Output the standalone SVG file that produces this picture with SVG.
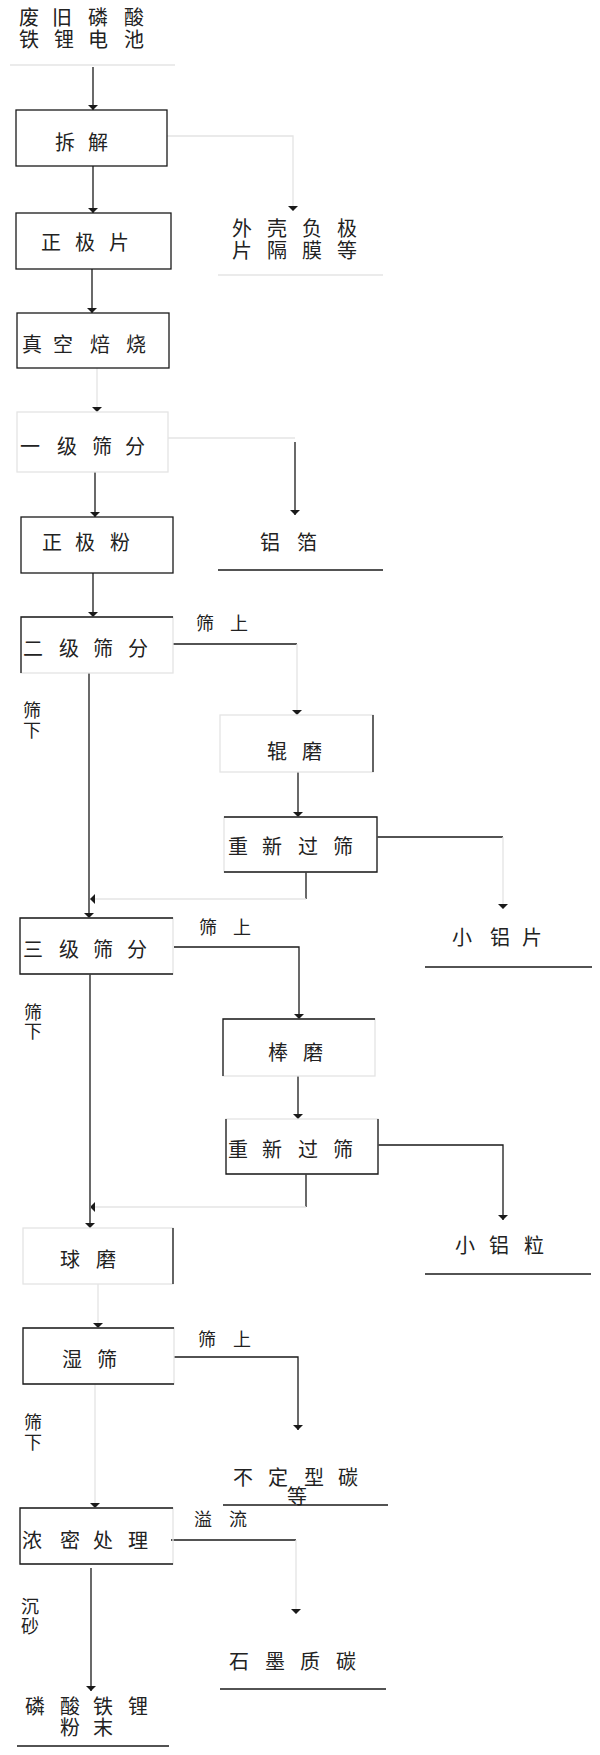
<svg xmlns="http://www.w3.org/2000/svg" width="600" height="1755" viewBox="0 0 600 1755">
<style>
.s{fill:none;stroke:#1a1a1a;stroke-width:1.3}
.f{fill:none;stroke:#e4e4e4;stroke-width:1.3}
.sa{fill:none;stroke:#1a1a1a;stroke-width:1.3;marker-end:url(#ah)}
.fa{fill:none;stroke:#e4e4e4;stroke-width:1.3;marker-end:url(#ah)}
text{font-family:"Noto Sans CJK SC","Noto Sans CJK JP",sans-serif;font-size:20px;fill:#222;text-anchor:middle}
.lb{font-size:18px}
</style>
<defs>
<marker id="ah" viewBox="0 0 5 10" refX="5" refY="5" markerWidth="5" markerHeight="10" markerUnits="userSpaceOnUse" orient="auto">
<path d="M0,0 L5,5 L0,10 z" fill="#1a1a1a"/>
</marker>
</defs>
<rect width="600" height="1755" fill="#fff"/>

<g id="connectors">
<path class="sa" d="M93,67 V110"/>
<path class="fa" d="M167,136 H293 V211"/>
<path class="sa" d="M93,166 V213"/>
<path class="sa" d="M92,269 V313"/>
<path class="fa" d="M97,368 V412"/>
<path class="f" d="M168,438 H295"/>
<path class="sa" d="M295,442 V515"/>
<path class="sa" d="M95,472 V517"/>
<path class="sa" d="M93,573 V617"/>
<path class="s" d="M173,644 H297"/>
<path class="fa" d="M297,644 V715"/>
<path class="sa" d="M298,772 V817"/>
<path class="s" d="M377,837 H503"/>
<path class="fa" d="M503,837 V909"/>
<path class="sa" d="M89,673 V918"/>
<path class="s" d="M306,872 V899"/>
<path class="fa" d="M306,899 H90"/>
<path class="sa" d="M174,947 H299 V1019"/>
<path class="sa" d="M298,1076 V1119"/>
<path class="sa" d="M378,1145 H503 V1220"/>
<path class="sa" d="M90,974 V1228"/>
<path class="s" d="M306,1174 V1207"/>
<path class="fa" d="M306,1207 H90"/>
<path class="fa" d="M98,1284 V1328"/>
<path class="sa" d="M174,1357 H298 V1430"/>
<path class="fa" d="M95,1384 V1508"/>
<path class="s" d="M171,1540 H296"/>
<path class="fa" d="M296,1540 V1614"/>
<path class="sa" d="M91,1568 V1691"/>
<text class="lb" x="205 239" y="630">筛上</text>
<text class="lb" x="32 32" y="717 737">筛下</text>
<text class="lb" x="208 242" y="934">筛上</text>
<text class="lb" x="33 33" y="1019 1038">筛下</text>
<text class="lb" x="207 242" y="1346">筛上</text>
<text class="lb" x="33 33" y="1429 1449">筛下</text>
<text class="lb" x="203 238" y="1526">溢流</text>
<text class="lb" x="30 30" y="1613 1633">沉砂</text>
</g>

<g id="n-source">
<text x="29 62 98 134 29 64 98 134" y="25 25 25 25 47 47 47 47">废旧磷酸铁锂电池</text>
<path class="f" d="M10,65 H175"/>
</g>

<g id="n-chaijie">
<rect class="s" x="16" y="110" width="151" height="56"/>
<text x="65 98" y="150">拆解</text>
</g>

<g id="n-zhengjipian">
<rect class="s" x="16" y="213" width="155" height="56"/>
<text x="51 85 119" y="250">正极片</text>
</g>

<g id="n-waike">
<text x="242 277 312 347 242 277 312 347" y="236 236 236 236 258 258 258 258">外壳负极片隔膜等</text>
<path class="f" d="M218,275 H383"/>
</g>

<g id="n-zhenkong">
<rect class="s" x="17" y="313" width="152" height="55"/>
<text x="32 63 100 136" y="352">真空焙烧</text>
</g>

<g id="n-yiji">
<rect class="f" x="17" y="412" width="151" height="60"/>
<text x="30 67 102 135" y="454">一级筛分</text>
</g>

<g id="n-lvbo">
<text x="270 307" y="550">铝箔</text>
<path class="s" d="M218,570 H383"/>
</g>

<g id="n-zhengjifen">
<rect class="s" x="21" y="517" width="152" height="56"/>
<text x="52 85 120" y="550">正极粉</text>
</g>

<g id="n-erji">
<rect class="f" x="21" y="617" width="152" height="56"/>
<path class="s" d="M173,617 H21 V673"/>
<text x="33 69 103 138" y="656">二级筛分</text>
</g>

<g id="n-gunmo">
<rect class="f" x="220" y="715" width="153" height="57"/>
<path class="s" d="M373,715 V772"/>
<text x="277 312" y="759">辊磨</text>
</g>

<g id="n-chongxin1">
<rect class="f" x="224" y="817" width="153" height="55"/>
<path class="s" d="M224,817 H377 V872 H224"/>
<text x="238 272 308 343" y="854">重新过筛</text>
</g>

<g id="n-xiaolvpian">
<text x="462 500 532" y="945">小铝片</text>
<path class="s" d="M425,967 H592"/>
</g>

<g id="n-sanji">
<rect class="f" x="20" y="918" width="153" height="56"/>
<path class="s" d="M173,918 H20 V974 H173"/>
<text x="33 69 103 137" y="957">三级筛分</text>
</g>

<g id="n-bangmo">
<rect class="f" x="223" y="1019" width="152" height="57"/>
<path class="s" d="M375,1019 H223 V1076"/>
<text x="278 313" y="1060">棒磨</text>
</g>

<g id="n-chongxin2">
<rect class="f" x="226" y="1119" width="152" height="55"/>
<path class="s" d="M226,1119 V1174 H378 V1119"/>
<text x="238 272 308 343" y="1157">重新过筛</text>
</g>

<g id="n-xiaolvli">
<text x="465 499 534" y="1253">小铝粒</text>
<path class="s" d="M425,1274 H591"/>
</g>

<g id="n-qiumo">
<rect class="f" x="23" y="1228" width="150" height="56"/>
<path class="s" d="M173,1228 V1284"/>
<text x="70 106" y="1267">球磨</text>
</g>

<g id="n-shishai">
<rect class="f" x="23" y="1328" width="151" height="56"/>
<path class="s" d="M174,1328 H23 V1384 H174"/>
<text x="72 107" y="1367">湿筛</text>
</g>

<g id="n-budingxing">
<text x="243 278 314 348 297" y="1485 1485 1485 1485 1504">不定型碳等</text>
<path class="s" d="M223,1505 H388"/>
</g>

<g id="n-nongmi">
<rect class="f" x="20" y="1508" width="153" height="56"/>
<path class="s" d="M173,1508 H20 V1564 H173"/>
<text x="32 70 103 138" y="1548">浓密处理</text>
</g>

<g id="n-shimo">
<text x="239 275 310 346" y="1669">石墨质碳</text>
<path class="s" d="M220,1689 H386"/>
</g>

<g id="n-product">
<text x="35 70 103 138 70 103" y="1714 1714 1714 1714 1735 1735">磷酸铁锂粉末</text>
<path class="s" d="M17,1746 H169"/>
</g>
</svg>
